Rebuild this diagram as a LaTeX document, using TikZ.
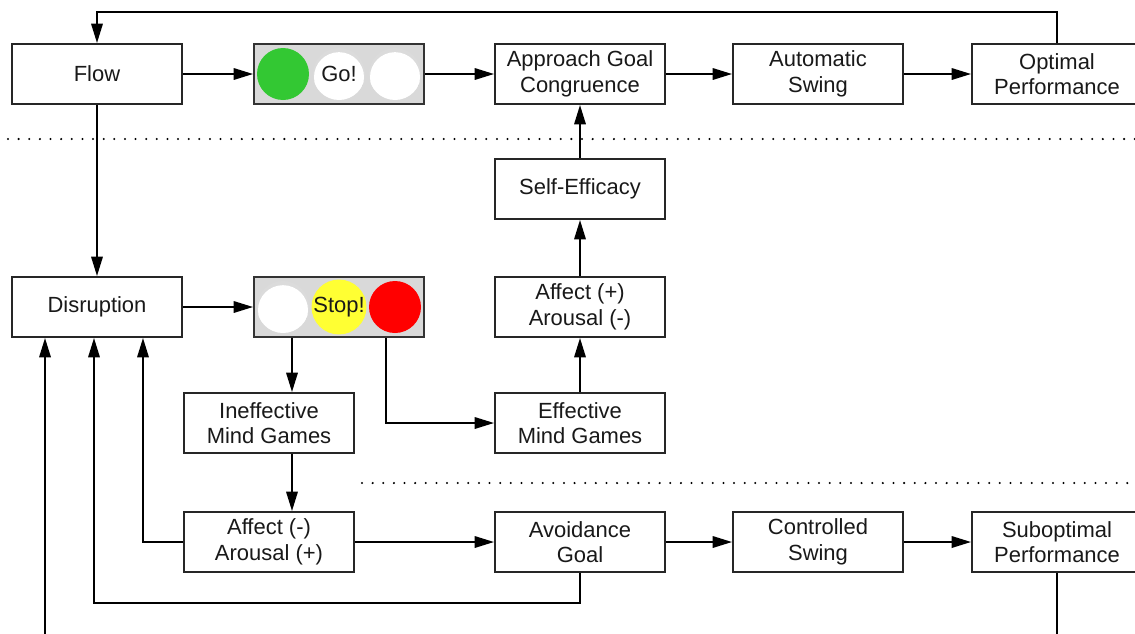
\documentclass[tikz,border=0pt]{standalone}
\usepackage{fontspec}
\setmainfont{Liberation Sans}
\usetikzlibrary{arrows.meta}
\definecolor{lampgreen}{RGB}{51,200,51}
\definecolor{lampyellow}{RGB}{255,255,51}
\definecolor{lampred}{RGB}{255,0,0}
\definecolor{housing}{RGB}{217,217,217}
\begin{document}
\begin{tikzpicture}[x=0.02cm,y=-0.02cm,->,>={Triangle[length=11pt,width=6.5pt]},line width=1.1pt,
    box/.style={draw=black!85,fill=white,minimum width=3.4cm,minimum height=1.2cm,inner sep=0pt,
      align=center,text=black!90,font=\fontsize{12.5}{14.5}\selectfont},
    light/.style={draw=black!80,fill=housing,minimum width=3.4cm,minimum height=1.2cm,inner sep=0pt},
    lamp/.style={circle,draw=none,minimum size=1.04cm,inner sep=0pt,text=black!90,
      font=\fontsize{12.5}{14.5}\selectfont},
    offlamp/.style={lamp,fill=gray!28,path picture={
      \fill[white] ([yshift=-1.8pt]path picture bounding box.center) circle (0.5cm);}},
    dots/.style={-,line width=1.3pt,dash pattern=on 0pt off 6.05pt,line cap=round}]
        \useasboundingbox (0,0) rectangle (1135,633);
        \clip[-] (0,0) rectangle (1135,633);
        % top row
        \node[box] (Flow) at (97,74) {Flow};
        \node[light] (Go) at (339,74) {};
        \node[lamp,fill=lampgreen] (go1) at (283,74) {};
        \node[offlamp] (go2) at (339,74) {Go!};
        \node[offlamp] (go3) at (395,74) {};
        \node[box] (AGC) at (580,74) {Approach Goal\\Congruence};
        \node[box] (AS) at (818,74) {Automatic\\Swing};
        \node[box] (OP) at (1057,74) {Optimal\\Performance};
        \node[box] (SE) at (580,189) {Self-Efficacy};
        % middle row
        \node[box] (Dis) at (97,307) {Disruption};
        \node[light] (Stop) at (339,307) {};
        \node[offlamp] (st1) at (283,307) {};
        \node[lamp,fill=lampyellow] (st2) at (339,307) {Stop!};
        \node[lamp,fill=lampred] (st3) at (395,307) {};
        \node[box] (AffP) at (580,307) {Affect (+)\\Arousal (-)};
        \node[box] (IMG) at (269,423) {Ineffective\\Mind Games};
        \node[box] (EMG) at (580,423) {Effective\\Mind Games};
        % bottom row
        \node[box] (AffM) at (269,542) {Affect (-)\\Arousal (+)};
        \node[box] (AG) at (580,542) {Avoidance\\Goal};
        \node[box] (CS) at (818,542) {Controlled\\Swing};
        \node[box] (SP) at (1057,542) {Suboptimal\\Performance};
        % dividers
        \draw[dots] (8,139) -- (1135,139);
        \draw[dots] (362,483) -- (1135,483);
        % arrows
        \draw (Flow) -- (Go);
        \draw (Go) -- (AGC);
        \draw (AGC) -- (AS);
        \draw (AS) -- (OP);
        \draw (OP.north) -- ++(0,-31) -| (Flow.north);
        \draw (Flow) -- (Dis);
        \draw (Dis) -- (Stop);
        \draw ([xshift=-0.94cm]Stop.south) -- ([xshift=0.46cm]IMG.north);
        \draw ([xshift=0.94cm]Stop.south) |- (EMG.west);
        \draw ([xshift=0.46cm]IMG.south) -- ([xshift=0.46cm]AffM.north);
        \draw (EMG) -- (AffP);
        \draw (AffP) -- (SE);
        \draw (SE) -- (AGC);
        \draw (AffM) -- (AG);
        \draw (AG) -- (CS);
        \draw (CS) -- (SP);
        \draw (AffM.west) -| ([xshift=0.92cm]Dis.south);
        \draw (AG.south) -- ++(0,30) -| ([xshift=-0.06cm]Dis.south);
        \draw (SP.south) -- ++(0,110) -| ([xshift=-1.04cm]Dis.south);
\end{tikzpicture}
\end{document}
